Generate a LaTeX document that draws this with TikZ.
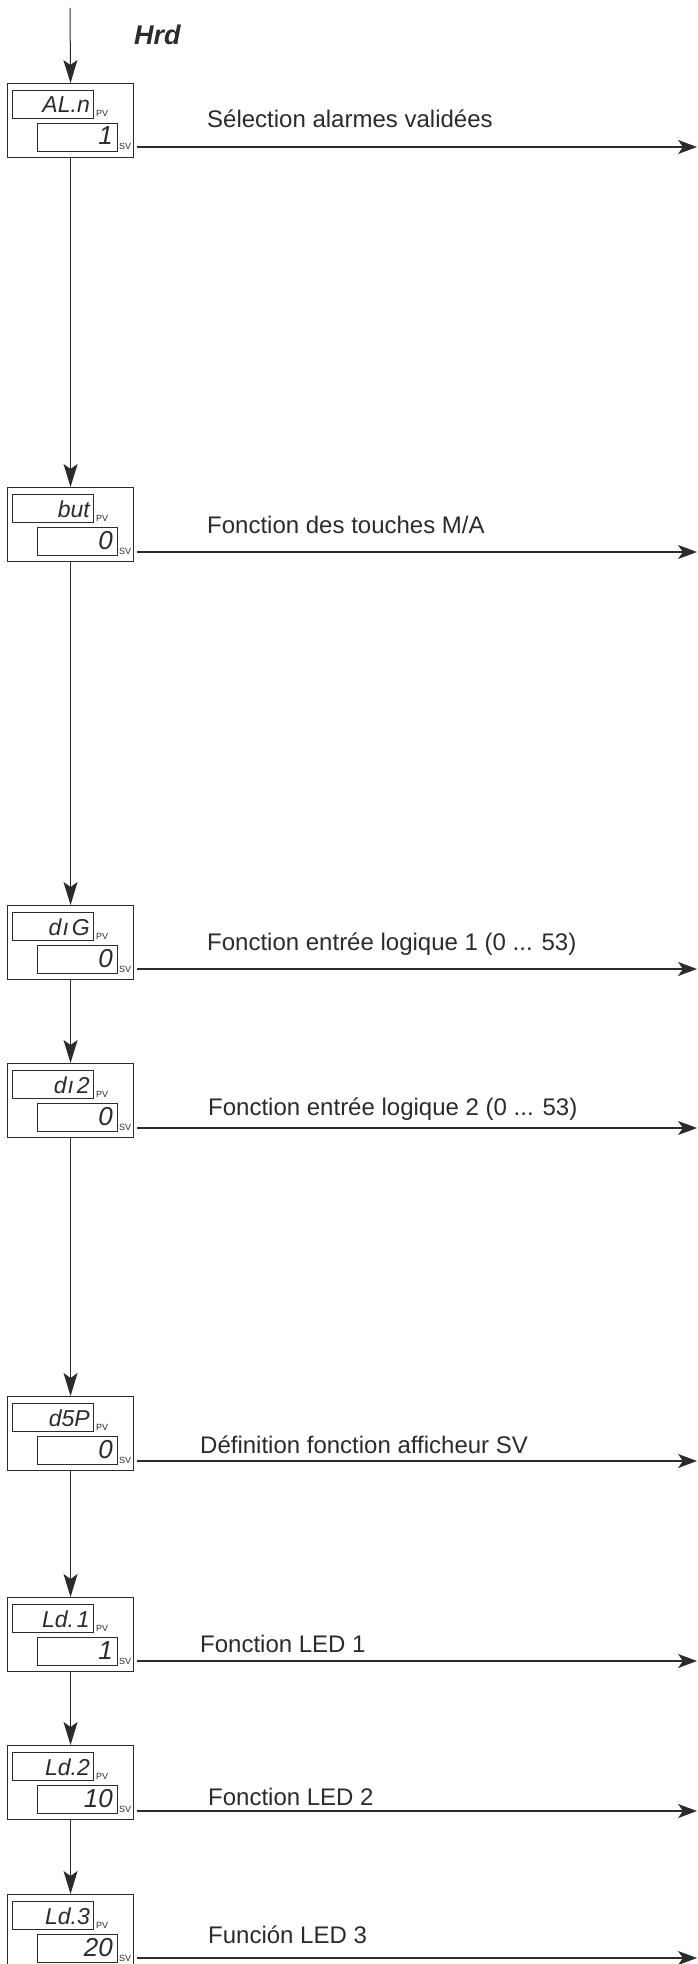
\documentclass[tikz,border=0pt]{standalone}
\usepackage{fontspec}
\setmainfont{Liberation Sans}
\usetikzlibrary{arrows.meta}
\definecolor{ink}{HTML}{2B2B2B}
\begin{document}
\begin{tikzpicture}[x=1pt,y=-1pt,
  panel/.style={draw=ink, line width=1.1pt, minimum width=126pt, minimum height=74pt, inner sep=0pt, anchor=north west},
  disp/.style={draw=ink, line width=0.9pt, minimum width=81pt, minimum height=28pt, inner sep=0pt, anchor=north west},
  pvtxt/.style={font=\fontsize{23}{23}\selectfont\itshape, text=ink, anchor=base east, inner sep=0pt},
  svtxt/.style={font=\fontsize{26}{26}\selectfont\itshape, text=ink, anchor=base east, inner sep=0pt},
  tag/.style={font=\fontsize{9}{9}\selectfont, text=ink, anchor=base west, inner sep=0pt},
  desc/.style={font=\fontsize{24}{24}\selectfont, text=ink, anchor=base west, inner sep=0pt},
  varrow/.style={draw=ink, line width=1pt, -{Stealth[length=23pt,width=14pt,inset=5pt]}},
  harrow/.style={draw=ink, line width=1.1pt, -{Stealth[length=19pt,width=14pt,inset=5pt]}}
]
\useasboundingbox (0,0) rectangle (697,1964);
\node[font=\fontsize{27}{27}\selectfont\bfseries\itshape, text=ink, anchor=base west, inner sep=0pt] (hrd) at (134,45) {Hrd};
\coordinate (top) at (70,8);
\foreach \i/\t/\pv/\sv/\lab/\tx/\tb/\ly in {
  1/83/{AL.n}/1/{Sélection alarmes validées}/207/128/147,
  2/487/{but}/0/{Fonction des touches M/A}/207/533/552,
  3/905/{d\kern1pt ı\kern3pt G}/0/{Fonction entrée logique 1 (0 ... 53)}/207/950/969,
  4/1063/{d\kern1pt ı\kern3pt 2}/0/{Fonction entrée logique 2 (0 ... 53)}/208/1115/1128,
  5/1396/{d5P}/0/{Définition fonction afficheur SV}/200/1453/1461,
  6/1597/{Ld.\kern3pt 1}/1/{Fonction LED 1}/200/1652/1661,
  7/1745/{Ld.2}/10/{Fonction LED 2}/208/1805/1811,
  8/1894/{Ld.3}/20/{Función LED 3}/208/1943/1958}
{
  \node[panel] (b\i) at (7,\t) {};
  \node[disp] (p\i) at (12,\t+7) {};
  \node[disp, minimum width=80pt] (s\i) at (37,\t+40) {};
  \node[pvtxt] (pt\i) at (90,\t+30) {\pv};
  \node[svtxt] (st\i) at (113,\t+62) {\sv};
  \node[tag] (pl\i) at (96,\t+34) {PV};
  \node[tag] (sl\i) at (119,\t+67) {SV};
  \node[desc] (d\i) at (\tx,\tb) {\lab};
  \coordinate (hs\i) at (137,\ly);
  \coordinate (he\i) at (697,\ly);
  \draw[harrow] (hs\i) -- (he\i);
}
\draw[varrow] (top) -- (b1.north);
\foreach \i/\j in {1/2,2/3,3/4,4/5,5/6,6/7,7/8}
  \draw[varrow] (b\i.south) -- (b\j.north);
\end{tikzpicture}
\end{document}
